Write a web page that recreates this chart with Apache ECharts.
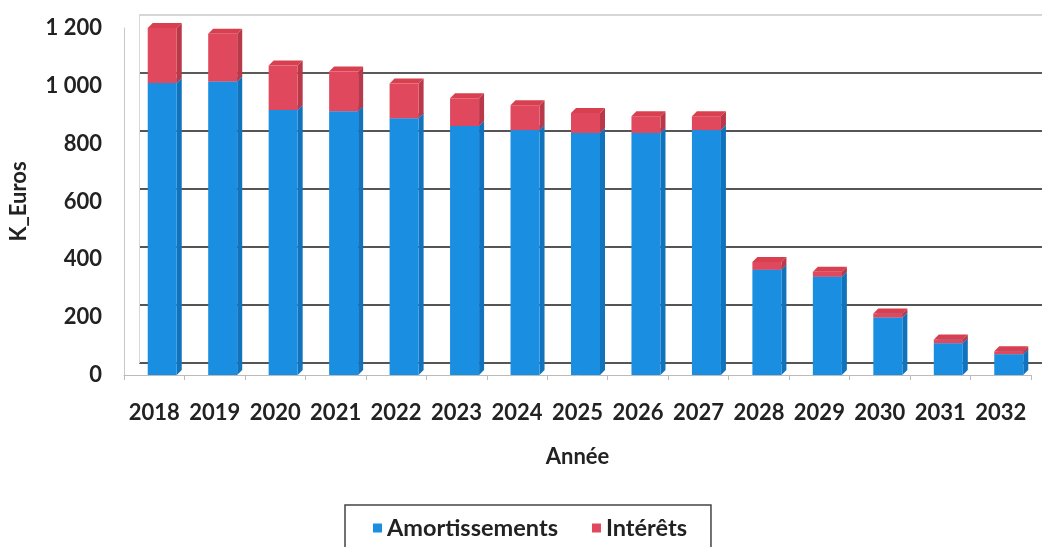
<!DOCTYPE html>
<html>
<head>
<meta charset="utf-8">
<script src="https://cdn.jsdelivr.net/npm/echarts@6/dist/echarts.min.js"></script>
<style>
  html, body { margin: 0; padding: 0; background: #fff; }
  #chart { width: 1042px; height: 547px; }
</style>
</head>
<body>
<div id="chart"></div>
<script>
// Annual debt service, in thousands of euros
const categories = ['2018', '2019', '2020', '2021', '2022', '2023', '2024', '2025',
                    '2026', '2027', '2028', '2029', '2030', '2031', '2032'];
const amortissements = [1010, 1015, 916, 912, 888, 861, 847, 837, 837, 847, 364, 340, 199, 110, 72];
const interets = [190, 165, 154, 138, 120, 96, 86, 69, 58, 48, 27, 17, 14, 13, 10];

const FONT = 'Lato, "Open Sans", sans-serif';
const TEXT = '#222';

// Stack segments as [categoryIndex, start, end]
const amortData = amortissements.map((v, i) => [i, 0, v]);
const interetsData = interets.map((v, i) => [i, amortissements[i], amortissements[i] + v]);

// Column drawn as a small prism (front, right side, top), set a little into depth
function prism(front, side, top) {
  return function (params, api) {
    const x = api.value(0);
    const pBase = api.coord([x, api.value(1)]);
    const pTop = api.coord([x, api.value(2)]);
    const band = api.size([1, 0])[0];
    const w = band * 0.48;
    const d = 5;
    const depthShift = 8;
    const l = pBase[0] - w / 2 + depthShift;
    const r = l + w;
    const yt = pTop[1];
    const yb = pBase[1];
    return {
      type: 'group',
      children: [
        { type: 'polygon', shape: { points: [[r, yt], [r + d, yt - d], [r + d, yb - d], [r, yb]] },
          style: { fill: side } },
        { type: 'polygon', shape: { points: [[l, yt], [l + d, yt - d], [r + d, yt - d], [r, yt]] },
          style: { fill: top } },
        { type: 'rect', shape: { x: l, y: yt, width: w, height: yb - yt },
          style: { fill: front } }
      ]
    };
  };
}

const chart = echarts.init(document.getElementById('chart'), null, { renderer: 'canvas' });

chart.setOption({
  backgroundColor: '#fff',
  animation: false,
  grid: [
    // front plane: axes, labels and columns
    { left: 123, right: 11, top: 28, bottom: 172 },
    // back wall: gridlines
    { left: 139, right: 0, top: 15, bottom: 184 }
  ],
  xAxis: [
    {
      type: 'category', gridIndex: 0, data: categories, offset: 4,
      axisLine: { show: true, lineStyle: { color: '#bbb', width: 1 } },
      axisTick: { show: true, length: 5, lineStyle: { color: '#bbb' } },
      axisLabel: {
        interval: 0, hideOverlap: false,
        color: TEXT, fontFamily: FONT, fontWeight: 'bold', fontSize: 22, margin: 23
      },
      name: 'Année', nameLocation: 'middle', nameGap: 67,
      nameTextStyle: { color: TEXT, fontFamily: FONT, fontWeight: 'bold', fontSize: 22 }
    },
    {
      type: 'category', gridIndex: 1, data: categories, show: false
    }
  ],
  yAxis: [
    {
      type: 'value', gridIndex: 0, min: 0, max: 1200, interval: 200,
      axisLine: { show: true, lineStyle: { color: '#c8c8c8', width: 1 } },
      axisTick: { show: false },
      splitLine: { show: false },
      axisLabel: {
        color: TEXT, fontFamily: FONT, fontWeight: 'bold', fontSize: 22, margin: 22,
        padding: [6, 0, 0, 0],
        formatter: v => String(v).replace(/\B(?=(\d{3})+(?!\d))/g, ' ')
      },
      name: 'K_Euros', nameLocation: 'middle', nameGap: 94, nameRotate: 90,
      nameTextStyle: { color: TEXT, fontFamily: FONT, fontWeight: 'bold', fontSize: 22 }
    },
    {
      type: 'value', gridIndex: 1, min: 0, max: 1200, interval: 200,
      axisLine: { show: true, lineStyle: { color: '#d8d8d8', width: 1 } },
      axisTick: { show: false },
      axisLabel: { show: false },
      splitLine: {
        show: true,
        lineStyle: { color: ['#555', '#555', '#555', '#555', '#555', '#5a5a5a', '#d6d6d6'], width: 1.8 }
      }
    }
  ],
  legend: {
    left: 345, top: 505,
    padding: [11, 24, 20, 28],
    borderColor: '#444', borderWidth: 1.5,
    icon: 'rect', itemWidth: 9, itemHeight: 9, itemGap: 34,
    textStyle: { color: TEXT, fontFamily: FONT, fontWeight: 'bold', fontSize: 23.5 },
    data: ['Amortissements', 'Intérêts']
  },
  series: [
    {
      name: 'Amortissements', type: 'custom', xAxisIndex: 0, yAxisIndex: 0,
      itemStyle: { color: '#1a8fe2' },
      encode: { x: 0, y: [1, 2] },
      renderItem: prism('#1a8fe2', '#1273bd', '#3fa2ea'),
      data: amortData
    },
    {
      name: 'Intérêts', type: 'custom', xAxisIndex: 0, yAxisIndex: 0,
      itemStyle: { color: '#e0485d' },
      encode: { x: 0, y: [1, 2] },
      renderItem: prism('#e0485d', '#b9384a', '#d8404f'),
      data: interetsData
    }
  ]
});
</script>
</body>
</html>
